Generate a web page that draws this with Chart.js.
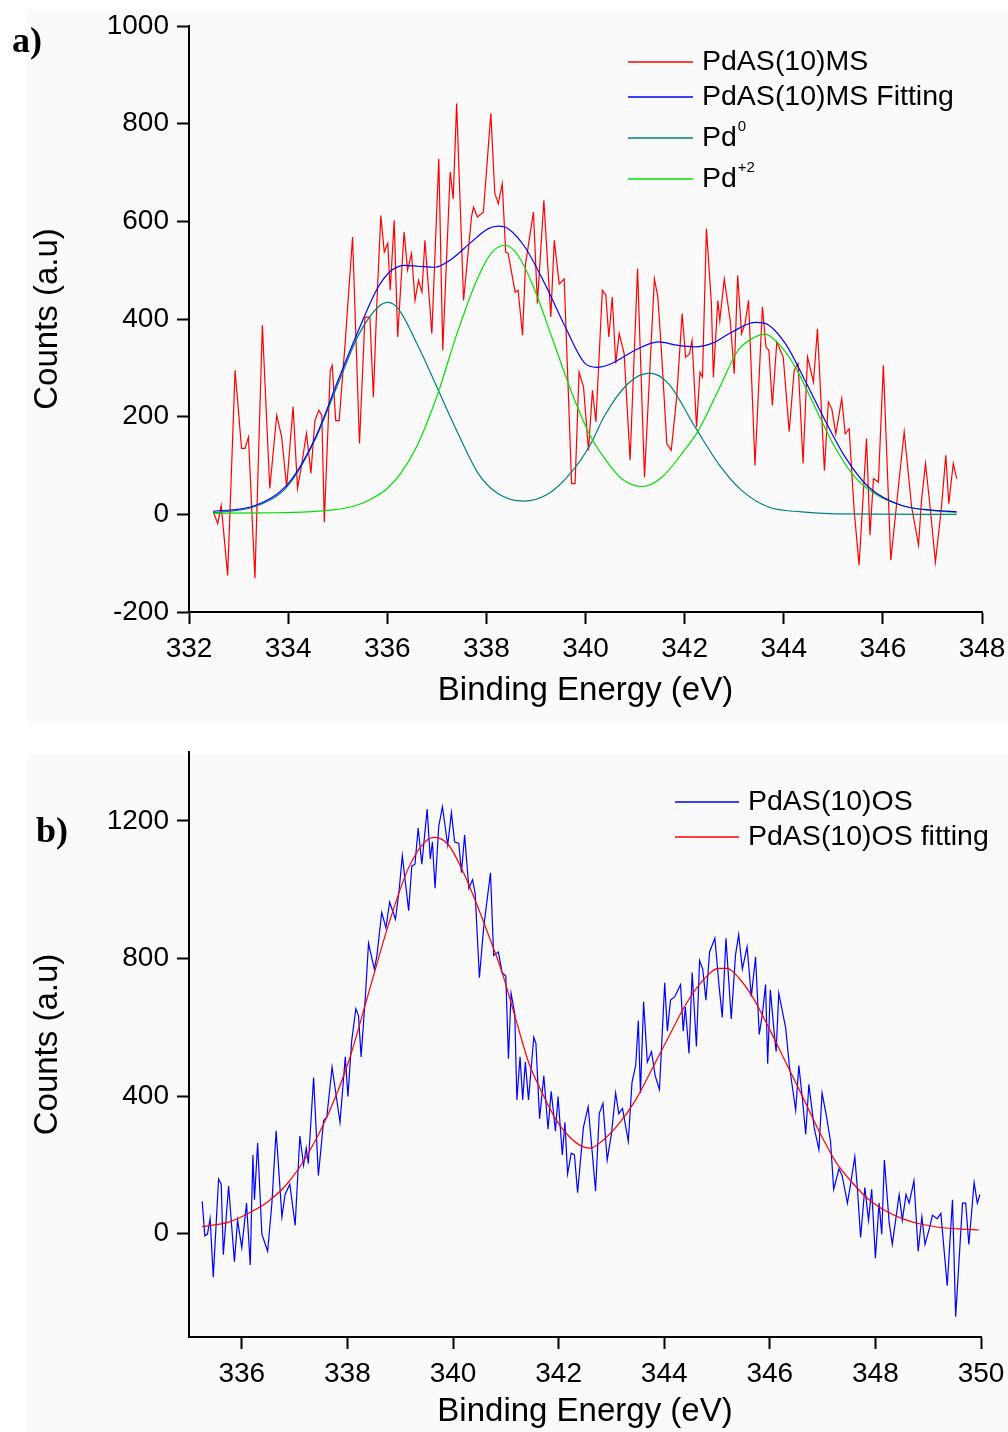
<!DOCTYPE html>
<html>
<head>
<meta charset="utf-8">
<title>Pd 3d XPS spectra</title>
<script src="https://cdn.jsdelivr.net/npm/chart.js@4/dist/chart.umd.min.js"></script>
<style>
  html, body { margin: 0; padding: 0; background: #fff; }
  #wrap { position: relative; width: 1008px; height: 1432px; }
  canvas { position: absolute; left: 0; }
  #chartA { top: 0; }
  #chartB { top: 722px; }
</style>
</head>
<body>
<div id="wrap">
  <canvas id="chartA" width="1008" height="722"></canvas>
  <canvas id="chartB" width="1008" height="710"></canvas>
</div>
<script>
// ---- panel a) PdAS(10)MS ----
const xTicksA = [332, 334, 336, 338, 340, 342, 344, 346, 348];
const yTicksA = [-200, 0, 200, 400, 600, 800, 1000];

const energyA = [
  332.49, 332.58, 332.65, 332.78, 332.93, 333.06, 333.13, 333.20, 333.33, 333.48,
  333.63, 333.77, 333.87, 333.97, 334.10, 334.19, 334.27, 334.37, 334.46, 334.54,
  334.62, 334.68, 334.73, 334.85, 334.89, 334.96, 335.03, 335.15, 335.30, 335.44,
  335.55, 335.65, 335.72, 335.79, 335.87, 335.94, 336.01, 336.06, 336.14, 336.21,
  336.34, 336.41, 336.49, 336.56, 336.63, 336.70, 336.76, 336.90, 337.04, 337.12,
  337.27, 337.33, 337.40, 337.54, 337.70, 337.74, 337.82, 337.94, 338.09, 338.17,
  338.24, 338.32, 338.39, 338.44, 338.58, 338.64, 338.73, 338.79, 338.95, 339.03,
  339.16, 339.30, 339.37, 339.47, 339.57, 339.72, 339.79, 339.87, 339.96, 340.06,
  340.14, 340.21, 340.34, 340.41, 340.47, 340.54, 340.61, 340.68, 340.78, 340.90,
  341.05, 341.19, 341.39, 341.46, 341.54, 341.64, 341.73, 341.84, 341.95, 342.02,
  342.10, 342.15, 342.24, 342.31, 342.36, 342.44, 342.54, 342.58, 342.67, 342.71,
  342.80, 342.92, 343.00, 343.07, 343.15, 343.22, 343.29, 343.42, 343.57, 343.64,
  343.70, 343.77, 343.86, 343.99, 344.11, 344.21, 344.29, 344.39, 344.48, 344.60,
  344.68, 344.82, 344.90, 344.97, 345.05, 345.17, 345.24, 345.32, 345.42, 345.52,
  345.67, 345.74, 345.81, 345.91, 346.01, 346.16, 346.31, 346.43, 346.58, 346.72,
  346.78, 346.86, 346.95, 347.06, 347.18, 347.27, 347.33, 347.42, 347.49
];
const countsA = [
  5, -19, 18, -125, 295, 135, 135, 158, -131, 387,
  53, 203, 158, 56, 220, 53, 100, 166, 84, 192,
  213, 203, -16, 295, 305, 192, 192, 350, 568, 145,
  404, 404, 240, 432, 612, 537, 555, 459, 602, 363,
  578, 500, 534, 438, 479, 455, 561, 370, 728, 336,
  701, 646, 841, 438, 609, 629, 609, 619, 821, 657,
  636, 677, 537, 534, 455, 459, 367, 513, 619, 432,
  643, 404, 561, 472, 482, 63, 63, 291, 261, 131,
  254, 189, 459, 449, 363, 445, 309, 370, 329, 111,
  503, 76, 482, 445, 322, 145, 131, 240, 411, 322,
  329, 356, 179, 291, 281, 585, 432, 281, 438, 397,
  482, 397, 288, 489, 370, 391, 438, 100, 425, 343,
  336, 223, 353, 322, 169, 295, 309, 104, 322, 271,
  380, 90, 230, 216, 165, 237, 165, 175, 8, -104,
  155, -43, 73, 66, 305, -94, 53, 169, 15, -63,
  29, 104, 18, -98, 12, 121, 22, 104, 73
];

const fitEnergyA = [
  332.49, 333.33, 334.00, 334.54, 335.01, 335.42, 335.82, 336.09, 336.36, 336.63,
  336.96, 337.30, 337.70, 338.04, 338.24, 338.44, 338.78, 339.18, 339.59, 339.99,
  340.23, 340.53, 341.00, 341.47, 341.87, 342.21, 342.55, 342.95, 343.42, 343.62,
  344.03, 344.43, 344.83, 345.24, 345.71, 346.38, 347.05, 347.49
];
const fitCountsA = [
  6, 18, 63, 155, 275, 377, 466, 500, 510, 508,
  506, 523, 558, 585, 590, 585, 547, 472, 384, 309,
  301, 309, 336, 353, 346, 343, 350, 373, 393, 391,
  350, 274, 193, 117, 56, 18, 8, 5
];

const pd0EnergyA = [
  332.49, 333.33, 334.00, 334.54, 335.01, 335.42, 335.82, 336.02, 336.22, 336.63,
  337.03, 337.43, 337.84, 338.24, 338.75, 339.25, 339.72, 340.09, 340.39, 340.86,
  341.29, 341.67, 342.21, 342.68, 343.15, 343.69, 344.36, 345.03, 347.49
];
const pd0CountsA = [
  3, 16, 59, 152, 268, 367, 425, 434, 421, 343,
  254, 165, 83, 42, 27, 42, 87, 141, 203, 268,
  289, 268, 179, 104, 49, 15, 5, 1, 0
];

const pd2EnergyA = [
  332.49, 333.50, 334.40, 334.90, 335.30, 335.65, 336.00, 336.30, 336.60, 336.85,
  337.05, 337.40, 337.80, 338.10, 338.38, 338.64, 338.95, 339.32, 339.72, 340.09,
  340.39, 340.73, 341.15, 341.54, 341.94, 342.28, 342.68, 343.08, 343.42, 343.62,
  343.89, 344.23, 344.63, 345.03, 345.44, 345.84, 346.38, 347.05, 347.49
];
const pd2CountsA = [
  2, 3, 5, 9, 16, 30, 53, 88, 140, 200,
  256, 368, 478, 535, 551, 530, 466, 363, 250, 162,
  114, 73, 57, 76, 124, 172, 254, 336, 363, 369,
  350, 302, 220, 138, 76, 42, 18, 7, 4
];

// ---- panel b) PdAS(10)OS ----
const xTicksB = [336, 338, 340, 342, 344, 346, 348, 350];
const yTicksB = [0, 400, 800, 1200];

const energyB = [
  335.25, 335.30, 335.35, 335.40, 335.46, 335.56, 335.61, 335.65, 335.75, 335.86,
  335.92, 336.00, 336.09, 336.16, 336.21, 336.24, 336.30, 336.38, 336.49, 336.57,
  336.65, 336.76, 336.82, 336.91, 337.01, 337.10, 337.17, 337.22, 337.26, 337.36,
  337.45, 337.55, 337.61, 337.71, 337.78, 337.86, 337.96, 338.01, 338.08, 338.16,
  338.21, 338.26, 338.34, 338.40, 338.51, 338.56, 338.65, 338.73, 338.80, 338.91,
  338.98, 339.04, 339.16, 339.22, 339.28, 339.34, 339.41, 339.51, 339.57, 339.61,
  339.66, 339.73, 339.80, 339.90, 339.97, 340.03, 340.11, 340.16, 340.22, 340.30,
  340.37, 340.42, 340.50, 340.58, 340.71, 340.77, 340.86, 340.93, 341.00, 341.05,
  341.10, 341.17, 341.21, 341.27, 341.32, 341.37, 341.43, 341.53, 341.57, 341.64,
  341.72, 341.80, 341.86, 341.94, 341.99, 342.07, 342.12, 342.17, 342.24, 342.30,
  342.36, 342.47, 342.56, 342.63, 342.70, 342.77, 342.84, 342.92, 343.00, 343.08,
  343.14, 343.21, 343.32, 343.39, 343.46, 343.51, 343.55, 343.61, 343.68, 343.76,
  343.83, 343.91, 344.01, 344.06, 344.12, 344.20, 344.31, 344.36, 344.40, 344.47,
  344.53, 344.61, 344.67, 344.73, 344.79, 344.86, 344.96, 345.04, 345.10, 345.17,
  345.27, 345.35, 345.41, 345.48, 345.57, 345.65, 345.73, 345.80, 345.86, 345.92,
  345.96, 346.01, 346.08, 346.12, 346.17, 346.30, 346.37, 346.49, 346.55, 346.62,
  346.68, 346.74, 346.84, 346.93, 346.99, 347.07, 347.15, 347.21, 347.31, 347.37,
  347.47, 347.53, 347.61, 347.66, 347.72, 347.80, 347.87, 347.93, 348.00, 348.07,
  348.12, 348.17, 348.26, 348.32, 348.45, 348.51, 348.58, 348.64, 348.73, 348.81,
  348.88, 348.94, 349.02, 349.08, 349.17, 349.24, 349.36, 349.46, 349.52, 349.65,
  349.71, 349.77, 349.87, 349.93, 349.98
];
const countsB = [
  94, -6, -1, 44, -126, 159, 144, -61, 139, -81,
  39, -41, 89, -91, 229, 99, 264, -1, -51, 89,
  299, 49, 114, 144, 24, 284, 199, 249, 204, 454,
  169, 329, 339, 484, 409, 324, 514, 399, 559, 654,
  634, 514, 689, 844, 769, 809, 934, 889, 964, 914,
  999, 1099, 939, 1069, 1074, 1179, 1074, 1234, 1089, 1139,
  1004, 1184, 1241, 1129, 1224, 1139, 1134, 1049, 1159, 1004,
  1029, 989, 744, 889, 1049, 809, 819, 759, 749, 509,
  699, 639, 389, 514, 389, 499, 389, 571, 554, 334,
  459, 304, 414, 299, 399, 229, 324, 174, 234, 229,
  119, 309, 369, 249, 124, 349, 379, 214, 289, 409,
  349, 364, 269, 439, 489, 619, 409, 674, 499, 529,
  459, 419, 729, 589, 679, 689, 724, 589, 659, 524,
  759, 544, 794, 769, 679, 819, 859, 719, 629, 859,
  624, 809, 869, 769, 834, 689, 804, 579, 639, 724,
  494, 709, 589, 529, 699, 599, 489, 359, 489, 389,
  289, 434, 309, 244, 409, 344, 269, 129, 189, 169,
  89, 144, 224, 129, -11, 134, 39, 129, -71, 89,
  -1, 214, 34, -31, 114, 39, 114, 89, 154, -51,
  49, -31, 14, 54, 44, 59, -151, 99, -241, 89,
  89, -31, 149, 89, 114
];

const fitEnergyB = [
  335.25, 335.75, 336.12, 336.50, 336.88, 337.26, 337.64, 338.02, 338.40, 338.78,
  339.16, 339.47, 339.66, 339.92, 340.17, 340.42, 340.67, 340.93, 341.18, 341.43,
  341.69, 341.94, 342.19, 342.44, 342.60, 342.82, 343.14, 343.46, 343.77, 344.09,
  344.40, 344.72, 345.03, 345.19, 345.41, 345.67, 345.98, 346.30, 346.62, 346.93,
  347.25, 347.56, 347.88, 348.19, 348.51, 348.83, 349.20, 349.58, 349.96
];
const fitCountsB = [
  21, 34, 59, 94, 149, 234, 349, 499, 699, 899,
  1064, 1139, 1152, 1129, 1059, 969, 869, 759, 629, 499,
  409, 334, 284, 254, 249, 269, 319, 389, 479, 574,
  664, 734, 771, 771, 744, 689, 599, 499, 399, 299,
  209, 149, 99, 67, 44, 29, 19, 14, 11
];

const family = '"Liberation Sans", Arial, sans-serif';
const supChars = { '⁰': '0', '¹': '1', '²': '2', '³': '3', '⁺': '+', '⁻': '-' };

function series(label, xs, ys, color, smooth, order) {
  return {
    label: label,
    data: xs.map((x, i) => ({ x: x, y: ys[i] })),
    borderColor: color,
    backgroundColor: color,
    borderWidth: 1.2,
    pointRadius: 0,
    fill: false,
    order: order,
    tension: 0,
    cubicInterpolationMode: smooth ? "monotone" : "default",
  };
}

function axis(min, max, tickValues, title, size, titlePadding) {
  return {
    type: "linear",
    min: min,
    max: max,
    afterBuildTicks: (s) => { s.ticks = tickValues.map((value) => ({ value })); },
    afterFit: (s) => {
      // fixed box size; edge labels must not push the plot area in
      if (s.isHorizontal()) s.height = size; else s.width = size;
      s.paddingLeft = 0;
      s.paddingRight = 0;
      s.paddingTop = 0;
      s.paddingBottom = 0;
    },
    border: { display: true, color: "#000", width: 2 },
    grid: { drawOnChartArea: false, drawTicks: true, tickLength: 12, tickWidth: 2, tickColor: "#000" },
    ticks: {
      color: "#000",
      font: { family: family, size: 28 },
      padding: 8,
      autoSkip: false,
      maxRotation: 0,
      callback: (v) => String(v),
    },
    title: {
      display: true,
      text: title,
      color: "#000",
      font: { family: family, size: 33 },
      padding: titlePadding,
    },
  };
}

// background shading, panel letter and in-plot legend
const panelDecor = {
  id: "panelDecor",
  beforeDraw(chart, args, opts) {
    const ctx = chart.ctx;
    ctx.save();
    ctx.fillStyle = "#fff";
    ctx.fillRect(0, 0, chart.width, chart.height);
    ctx.fillStyle = "#fafafa";
    ctx.fillRect(opts.shade[0], opts.shade[1], chart.width - opts.shade[0], chart.height - opts.shade[1]);
    ctx.restore();
  },
  afterDraw(chart, args, opts) {
    const ctx = chart.ctx;
    ctx.save();
    ctx.fillStyle = "#000";
    ctx.font = 'bold 36px "Liberation Serif", "Times New Roman", serif';
    ctx.textBaseline = "alphabetic";
    ctx.fillText(opts.letter, opts.letterPos[0], opts.letterPos[1]);

    const lg = opts.legend;
    chart.data.datasets.forEach((ds, i) => {
      const y = lg.rows[i];
      ctx.strokeStyle = ds.borderColor;
      ctx.lineWidth = 1.5;
      ctx.beginPath();
      ctx.moveTo(lg.x1, y);
      ctx.lineTo(lg.x2, y);
      ctx.stroke();

      const m = ds.label.match(/^(.*?)([⁰¹²³⁺⁻]*)$/);
      ctx.fillStyle = "#000";
      ctx.textBaseline = "middle";
      ctx.font = "28.5px " + family;
      ctx.fillText(m[1], lg.textX, y);
      if (m[2]) {
        const w = ctx.measureText(m[1]).width;
        const sup = m[2].split("").map((c) => supChars[c]).join("");
        ctx.font = "15px " + family;
        ctx.fillText(sup, lg.textX + w + 1, y - 11);
      }
    });
    ctx.restore();
  },
};

new Chart(document.getElementById("chartA"), {
  type: "line",
  data: {
    datasets: [
      series("PdAS(10)MS", energyA, countsA, "#ff0000", false, 4),
      series("PdAS(10)MS Fitting", fitEnergyA, fitCountsA, "#0000ff", true, 1),
      series("Pd⁰", pd0EnergyA, pd0CountsA, "#008080", true, 3),
      series("Pd⁺²", pd2EnergyA, pd2CountsA, "#00e000", true, 2),
    ],
  },
  options: {
    responsive: false,
    animation: false,
    layout: { padding: { top: 26, right: 26, left: 0, bottom: 0 } },
    scales: {
      x: axis(332, 348, xTicksA, "Binding Energy (eV)", 110, { top: 0, bottom: 11 }),
      y: axis(-200, 1000, yTicksA, "Counts (a.u)", 189, { top: 28, bottom: 0 }),
    },
    plugins: {
      legend: { display: false },
      tooltip: { enabled: false },
      panelDecor: {
        shade: [27, 10],
        letter: "a)",
        letterPos: [12, 52],
        legend: { x1: 628, x2: 693, textX: 702, rows: [62, 97, 138, 179] },
      },
    },
  },
  plugins: [panelDecor],
});

new Chart(document.getElementById("chartB"), {
  type: "line",
  data: {
    datasets: [
      series("PdAS(10)OS", energyB, countsB, "#0000ff", false, 2),
      series("PdAS(10)OS fitting", fitEnergyB, fitCountsB, "#ff0000", true, 1),
    ],
  },
  options: {
    responsive: false,
    animation: false,
    layout: { padding: { top: 30, right: 27, left: 0, bottom: 0 } },
    scales: {
      x: axis(335, 350, xTicksB, "Binding Energy (eV)", 95, { top: 0, bottom: 0 }),
      y: axis(-300, 1400, yTicksB, "Counts (a.u)", 189, { top: 28, bottom: 0 }),
    },
    plugins: {
      legend: { display: false },
      tooltip: { enabled: false },
      panelDecor: {
        shade: [27, 33],
        letter: "b)",
        letterPos: [36, 120],
        legend: { x1: 675, x2: 739, textX: 748, rows: [80, 115] },
      },
    },
  },
  plugins: [panelDecor],
});
</script>
</body>
</html>
